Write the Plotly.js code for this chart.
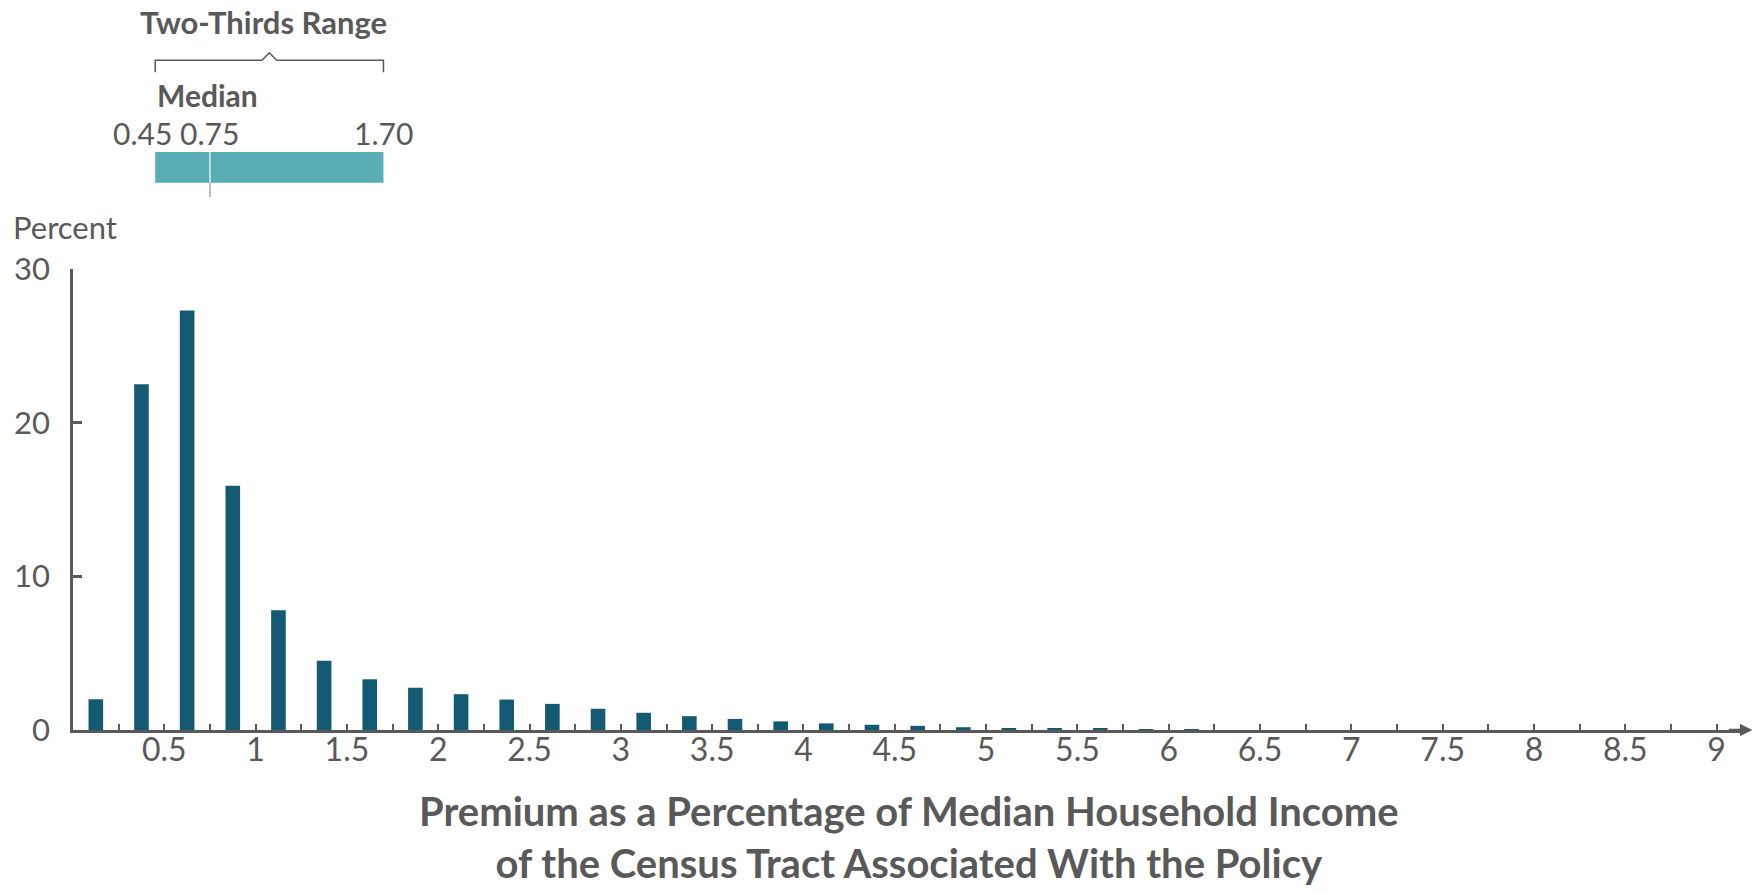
<!DOCTYPE html>
<html>
<head>
<meta charset="utf-8">
<script src="https://cdn.plot.ly/plotly-3.0.1.min.js"></script>
<style>html,body{margin:0;padding:0;background:#fff;}#chart{width:1755px;height:894px;}</style>
</head>
<body>
<div id="chart"></div>
<script>
// ---- data ----
var binCenters = [0.125, 0.375, 0.625, 0.875, 1.125, 1.375, 1.625, 1.875, 2.125, 2.375,
                  2.625, 2.875, 3.125, 3.375, 3.625, 3.875, 4.125, 4.375, 4.625, 4.875,
                  5.125, 5.375, 5.625, 5.875, 6.125];
var percentValues = [2.0, 22.5, 27.3, 15.9, 7.8, 4.5, 3.3, 2.75, 2.33, 1.98,
                     1.7, 1.38, 1.12, 0.9, 0.72, 0.56, 0.43, 0.34, 0.27, 0.18,
                     0.13, 0.09, 0.07, 0.05, 0.02];
var xTickVals = [0.25, 0.5, 0.75, 1, 1.25, 1.5, 1.75, 2, 2.25, 2.5, 2.75, 3, 3.25, 3.5, 3.75, 4,
                 4.25, 4.5, 4.75, 5, 5.25, 5.5, 5.75, 6, 6.25, 6.5, 6.75, 7, 7.25, 7.5, 7.75, 8,
                 8.25, 8.5, 8.75, 9];
var xTickText = ['', '0.5', '', '1', '', '1.5', '', '2', '', '2.5', '', '3', '', '3.5', '', '4',
                 '', '4.5', '', '5', '', '5.5', '', '6', '', '6.5', '', '7', '', '7.5', '', '8',
                 '', '8.5', '', '9'];
var yTickVals = [0, 10, 20, 30];
var rangeLow = 0.45, rangeHigh = 1.70, medianValue = 0.75;
var rangeLabels = ['0.45', '0.75', '1.70'];

// ---- styles ----
var txt = '#595959';
var axisCol = '#595959';
var font = 'Lato, "Open Sans", sans-serif';
var barCol = '#145a72';
var boxCol = '#58aeb2';

var mid = (rangeLow + rangeHigh) / 2;
var bracketPath = 'M ' + rangeLow + ' 1.427 L ' + rangeLow + ' 1.453 L ' + (mid - 0.04) + ' 1.453 L ' +
  mid + ' 1.469 L ' + (mid + 0.04) + ' 1.453 L ' + rangeHigh + ' 1.453 L ' + rangeHigh + ' 1.427';

var trace = {
  type: 'bar',
  x: binCenters,
  y: percentValues,
  width: 0.08,
  marker: {color: barCol, line: {width: 0}},
  hoverinfo: 'x+y'
};

var layout = {
  width: 1755, height: 894,
  margin: {l: 73, r: 11, t: 269, b: 164},
  paper_bgcolor: '#fff', plot_bgcolor: '#fff',
  showlegend: false,
  font: {family: font, color: txt, size: 28},
  xaxis: {
    range: [0, 9.15],
    showgrid: false, zeroline: false,
    showline: true, linecolor: axisCol, linewidth: 2.5,
    ticks: 'inside', ticklen: 6, tickwidth: 2, tickcolor: axisCol,
    tickmode: 'array', tickvals: xTickVals, ticktext: xTickText,
    ticklabelstandoff: -10,
    tickfont: {family: font, size: 32, color: txt}
  },
  yaxis: {
    range: [0, 30],
    showgrid: false, zeroline: false,
    showline: true, linecolor: axisCol, linewidth: 2.5,
    ticks: 'inside', ticklen: 9, tickwidth: 2.5, tickcolor: axisCol,
    tickmode: 'array', tickvals: yTickVals,
    ticklabelstandoff: 14,
    tickfont: {family: font, size: 31, color: txt}
  },
  shapes: [
    {type: 'path', xref: 'x', yref: 'paper', path: bracketPath, line: {color: '#595959', width: 1.5}},
    {type: 'rect', xref: 'x', yref: 'paper', x0: rangeLow, x1: rangeHigh, y0: 1.187, y1: 1.254,
     fillcolor: boxCol, line: {width: 0}},
    {type: 'line', xref: 'x', yref: 'paper', x0: medianValue, x1: medianValue, y0: 1.187, y1: 1.254,
     line: {color: '#d8f2f2', width: 1.5}},
    {type: 'line', xref: 'x', yref: 'paper', x0: medianValue, x1: medianValue, y0: 1.156, y1: 1.187,
     line: {color: '#aaaaaa', width: 1.5}}
  ],
  annotations: [
    {xref: 'x', yref: 'paper', x: mid, y: 1.536, text: '<b>Two-Thirds Range</b>', showarrow: false,
     xanchor: 'center', yanchor: 'middle', xshift: -6, font: {family: font, size: 31, color: txt}},
    {xref: 'x', yref: 'paper', x: rangeLow, y: 1.377, text: '<b>Median</b>', showarrow: false,
     xanchor: 'left', yanchor: 'middle', font: {family: font, size: 30, color: txt}},
    {xref: 'x', yref: 'paper', x: rangeLow, y: 1.294, text: rangeLabels[0], showarrow: false,
     xanchor: 'center', yanchor: 'middle', xshift: -13, font: {family: font, size: 30, color: txt}},
    {xref: 'x', yref: 'paper', x: medianValue, y: 1.294, text: rangeLabels[1], showarrow: false,
     xanchor: 'center', yanchor: 'middle', font: {family: font, size: 30, color: txt}},
    {xref: 'x', yref: 'paper', x: rangeHigh, y: 1.294, text: rangeLabels[2], showarrow: false,
     xanchor: 'center', yanchor: 'middle', font: {family: font, size: 30, color: txt}},
    {xref: 'paper', yref: 'paper', x: 0, xshift: -62, y: 1.091, text: 'Percent', showarrow: false,
     xanchor: 'left', yanchor: 'middle', font: {family: font, size: 31, color: txt}},
    {xref: 'paper', yref: 'paper', x: 0.5, y: -0.232, text: '<b>Premium as a Percentage of Median Household Income<br>of the Census Tract Associated With the Policy</b>',
     showarrow: false, xanchor: 'center', yanchor: 'middle', font: {family: font, size: 40, color: txt}},
    {xref: 'paper', yref: 'paper', x: 1.005, y: 0, ax: -25, ay: 0, text: '', showarrow: true,
     arrowhead: 2, arrowsize: 1, arrowwidth: 2.5, arrowcolor: axisCol}
  ]
};

Plotly.newPlot('chart', [trace], layout, {displayModeBar: false, responsive: false});
</script>
</body>
</html>
